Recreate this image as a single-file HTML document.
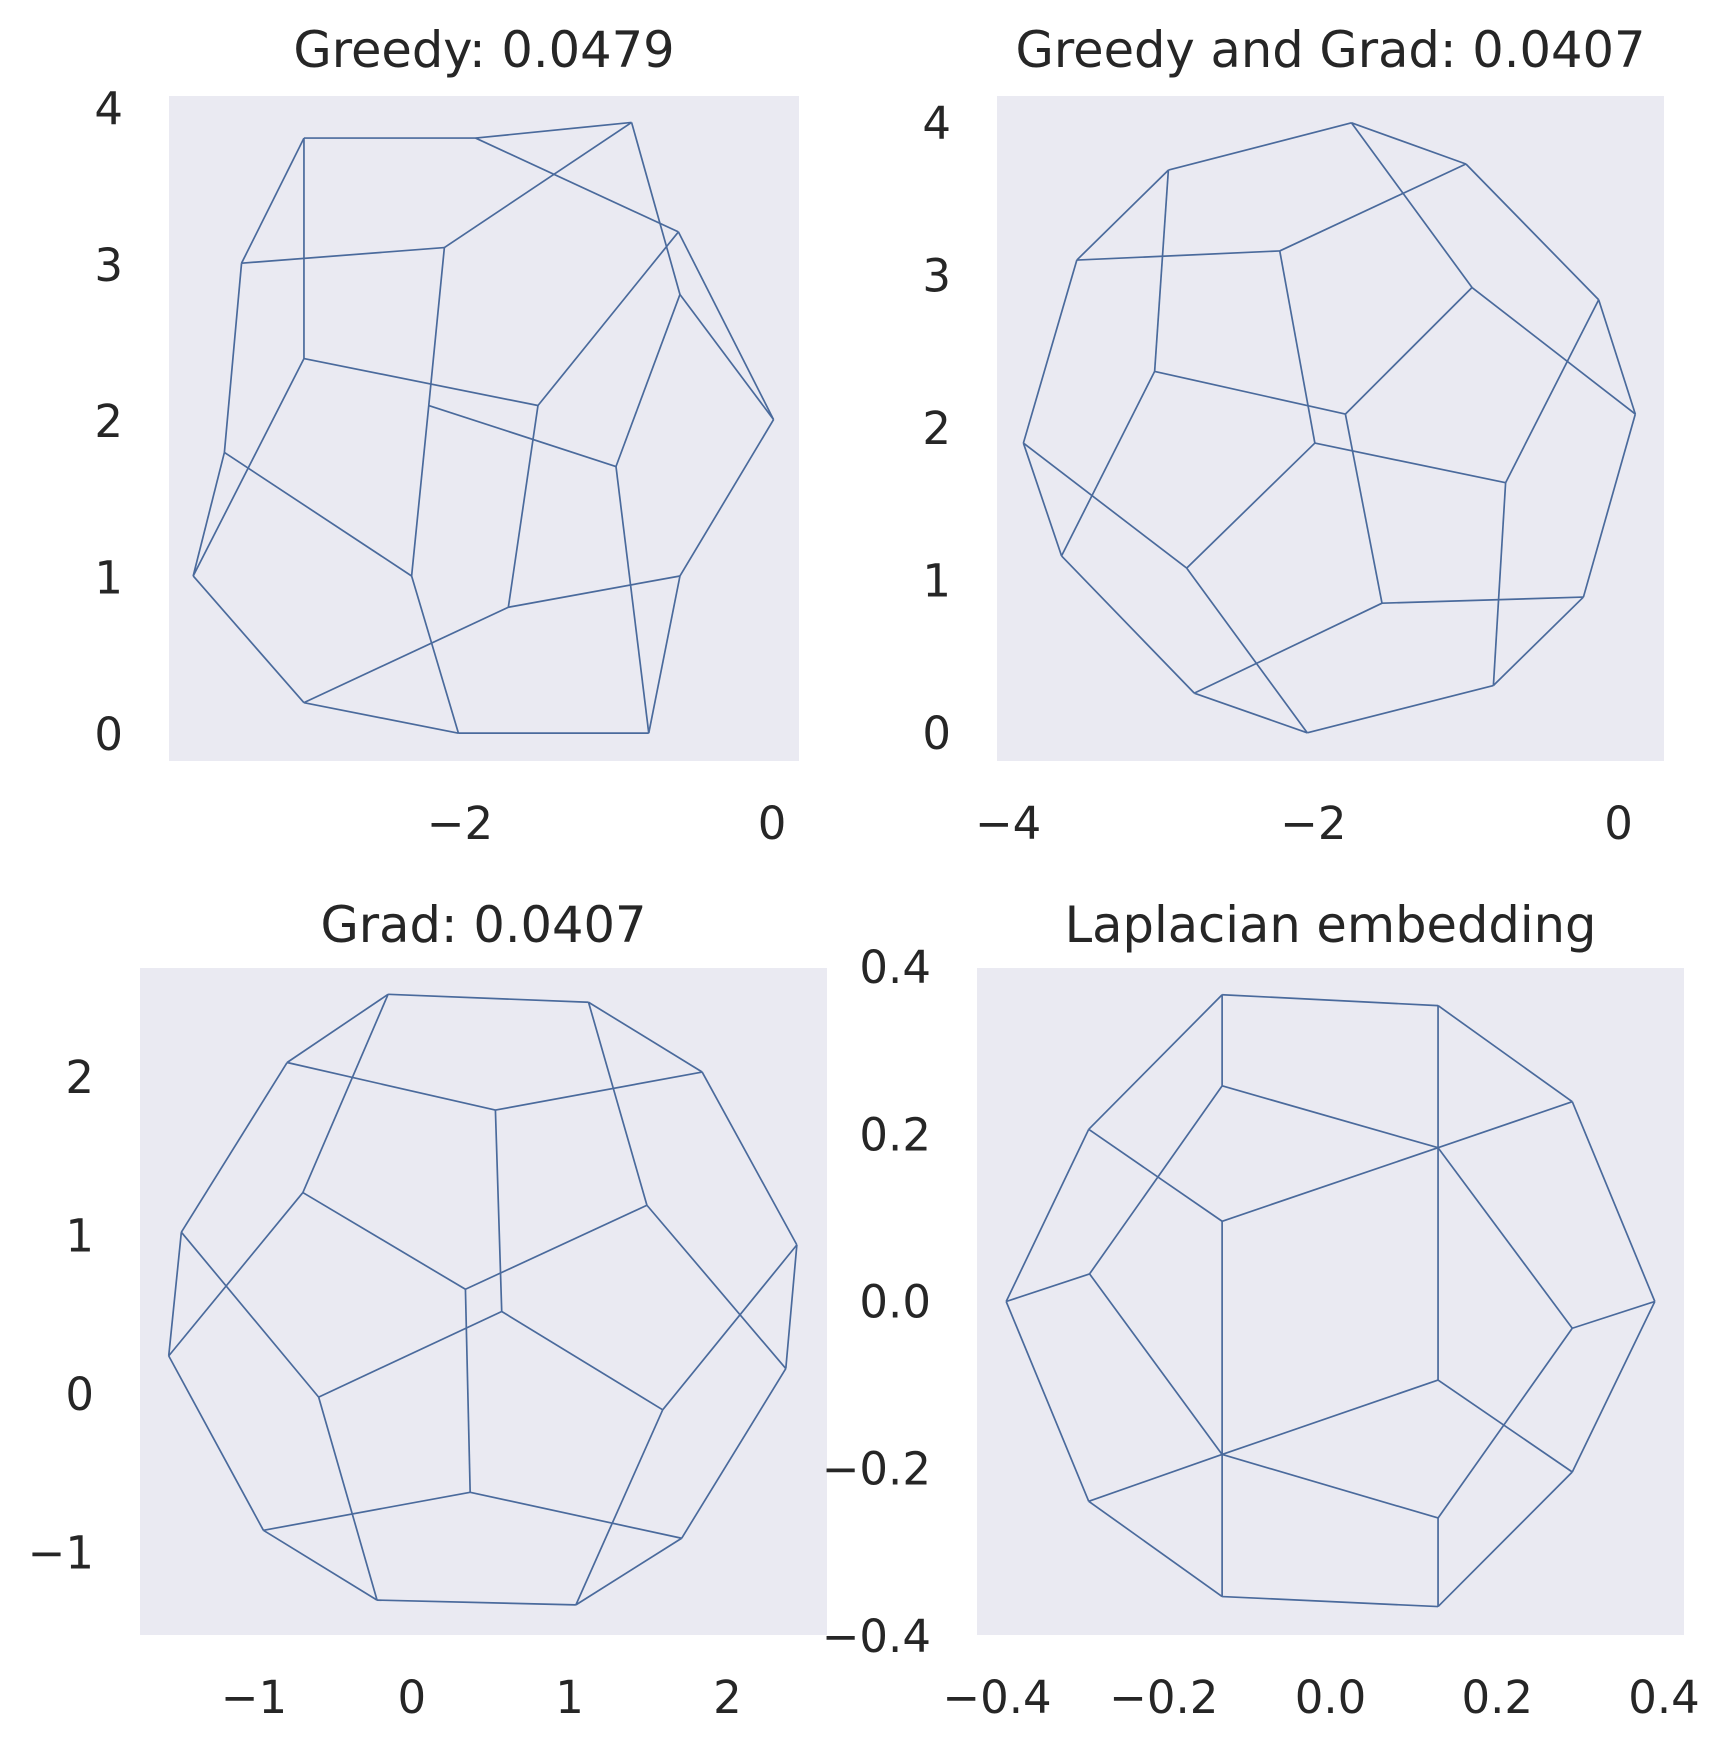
<!DOCTYPE html>
<html><head><meta charset="utf-8">
<style>
html,body{margin:0;padding:0;background:#fff;}
svg{display:block;}
text{font-family:"DejaVu Sans","Liberation Sans",sans-serif;fill:#262626;}
</style></head>
<body>
<svg id="fig" width="1731" height="1752" viewBox="0 0 1731 1752" xmlns="http://www.w3.org/2000/svg"></svg>
<script>
// Panel 1: Greedy
const p1X = [-3.00,-1.90,-0.90,-3.40,-2.10,-0.60,-0.59,0.01,-3.00,-1.50,-2.20,-3.51,-2.31,-1.00,-3.71,-1.69,-0.59,-3.00,-2.01,-0.79];
const p1Y = [3.81,3.81,3.91,3.01,3.11,3.21,2.81,2.01,2.40,2.10,2.10,1.80,1.01,1.71,1.01,0.81,1.01,0.20,0.005,0.005];
const p1E = [[0,1],[0,3],[0,8],[1,2],[1,5],[2,4],[2,6],[3,4],[3,11],[5,7],[5,9],[6,7],[6,13],[7,16],[8,9],[8,14],[9,15],[10,4],[10,13],[10,12],[11,12],[11,14],[12,18],[13,19],[14,17],[15,16],[15,17],[16,19],[17,18],[18,19]];
const p1XTicks = [-2,0];
const p1YTicks = [0,1,2,3,4];
// Panel 2: Greedy and Grad
const p2X = [-1.75,-2.95,-1.00,-3.55,-2.22,-0.13,-0.96,0.11,-3.04,-1.79,-1.99,-3.90,-0.74,-3.65,-2.83,-1.55,-0.23,-2.78,-2.04,-0.82];
const p2Y = [4.00,3.69,3.73,3.10,3.16,2.84,2.92,2.09,2.37,2.09,1.90,1.90,1.64,1.16,1.08,0.85,0.89,0.26,0.00,0.31];
const p2E = [[0,1],[0,2],[0,6],[1,3],[1,8],[2,4],[2,5],[3,4],[3,11],[4,10],[5,7],[5,12],[6,9],[6,7],[7,16],[8,9],[8,13],[9,15],[10,12],[10,14],[11,13],[11,14],[12,19],[13,17],[14,18],[15,16],[15,17],[16,19],[17,18],[18,19]];
const p2XTicks = [-4,-2,0];
const p2YTicks = [0,1,2,3,4];
// Panel 3: Grad
const p3X = [-0.15,1.12,-0.79,1.84,0.53,-0.69,1.49,-1.46,2.44,0.34,0.57,-1.54,2.37,-0.59,1.59,0.37,-0.94,1.71,-0.22,1.04];
const p3Y = [2.52,2.47,2.09,2.03,1.79,1.27,1.19,1.02,0.94,0.66,0.52,0.24,0.16,-0.02,-0.10,-0.62,-0.86,-0.91,-1.30,-1.33];
const p3E = [[0,1],[0,2],[0,5],[1,3],[1,6],[2,4],[2,7],[3,4],[3,8],[4,10],[5,9],[5,11],[6,9],[6,12],[7,11],[7,13],[8,12],[8,14],[9,15],[10,13],[10,14],[11,16],[12,17],[13,18],[14,19],[15,16],[15,17],[16,18],[17,19],[18,19]];
const p3XTicks = [-1,0,1,2];
const p3YTicks = [-1,0,1,2];
// Panel 4: Laplacian embedding
const p4X = [-0.130,0.129,-0.290,0.290,-0.130,0.129,-0.130,-0.389,0.389,-0.289,0.290,0.129,-0.130,-0.290,0.290,0.129,-0.130,0.129,0.129,-0.130];
const p4Y = [0.367,0.354,0.206,0.239,0.258,0.184,0.096,0.000,0.000,0.033,-0.032,-0.094,-0.183,-0.239,-0.204,-0.259,-0.353,-0.365,0.184,-0.183];
const p4E = [[0,1],[0,2],[0,4],[1,3],[1,5],[2,6],[2,7],[3,18],[3,8],[4,5],[4,9],[18,6],[5,10],[18,11],[6,19],[7,9],[7,13],[8,10],[8,14],[9,12],[10,15],[11,19],[11,14],[12,13],[19,15],[12,16],[13,16],[14,17],[15,17],[16,17]];
const p4XTicks = [-0.4,-0.2,0.0,0.2,0.4];
const p4YTicks = [-0.4,-0.2,0.0,0.2,0.4];

const NS = "http://www.w3.org/2000/svg";
const fig = document.getElementById('fig');
function mk(tag, attrs, parent){ const e=document.createElementNS(NS,tag); for(const k in attrs) e.setAttribute(k,attrs[k]); parent.appendChild(e); return e; }
function fmt(v, dec){ const s = v.toFixed(dec); return (v < -1e-9 ? '\u2212' + s.slice(1) : (Math.abs(v)<1e-9 ? (0).toFixed(dec) : s)); }

function panel(cfg){
  const g = mk('g', {}, fig);
  
  
  const sx = v => cfg.px0 + (v - cfg.xr[0]) / (cfg.xr[1]-cfg.xr[0]) * (cfg.px1-cfg.px0);
  const sy = v => cfg.py1 - (v - cfg.yr[0]) / (cfg.yr[1]-cfg.yr[0]) * (cfg.py1-cfg.py0);
  const bg = mk('rect', {x:cfg.px0, y:cfg.py0, width:cfg.px1-cfg.px0, height:cfg.py1-cfg.py0, fill:'#eaeaf2'}, g);
  
  
  const t = mk('text', {x:(cfg.px0+cfg.px1)/2, y:cfg.titleY, 'font-size':49.5, 'text-anchor':'middle'}, g);
  t.textContent = cfg.title;
  
  
  cfg.xt.forEach(v => {
    const e = mk('text', {x:sx(v), y:cfg.py1+78, 'font-size':45, 'text-anchor':'middle'}, g);
    e.textContent = fmt(v, cfg.dec);
    
    
  });
  cfg.yt.forEach(v => {
    const e = mk('text', {x:cfg.px0-46, y:sy(v)+16, 'font-size':45, 'text-anchor':'end'}, g);
    e.textContent = fmt(v, cfg.dec);
    
    
  });
  cfg.E.forEach(([a,b]) => {
    const l = mk('line', {x1:sx(cfg.X[a]), y1:sy(cfg.Y[a]), x2:sx(cfg.X[b]), y2:sy(cfg.Y[b]), stroke:'#4a6a9c', 'stroke-width':1.7}, g);
    
    
  });
}

panel({name:'greedy-panel', title:'Greedy: 0.0479', X:p1X, Y:p1Y, E:p1E, xt:p1XTicks, yt:p1YTicks, dec:0,
  px0:169, px1:799, py0:96, py1:761, xr:[-3.865,0.173], yr:[-0.173,4.079], titleY:67});
panel({name:'greedy-and-grad-panel', title:'Greedy and Grad: 0.0407', X:p2X, Y:p2Y, E:p2E, xt:p2XTicks, yt:p2YTicks, dec:0,
  px0:997, px1:1664, py0:96, py1:761, xr:[-4.073,0.298], yr:[-0.185,4.176], titleY:67});
panel({name:'grad-panel', title:'Grad: 0.0407', X:p3X, Y:p3Y, E:p3E, xt:p3XTicks, yt:p3YTicks, dec:0,
  px0:140, px1:827, py0:968, py1:1635, xr:[-1.722,2.631], yr:[-1.520,2.686], titleY:942});
panel({name:'laplacian-panel', title:'Laplacian embedding', X:p4X, Y:p4Y, E:p4E, xt:p4XTicks, yt:p4YTicks, dec:1,
  px0:977, px1:1684, py0:968, py1:1635, xr:[-0.424,0.424], yr:[-0.399,0.399], titleY:942});
</script>
</body></html>
